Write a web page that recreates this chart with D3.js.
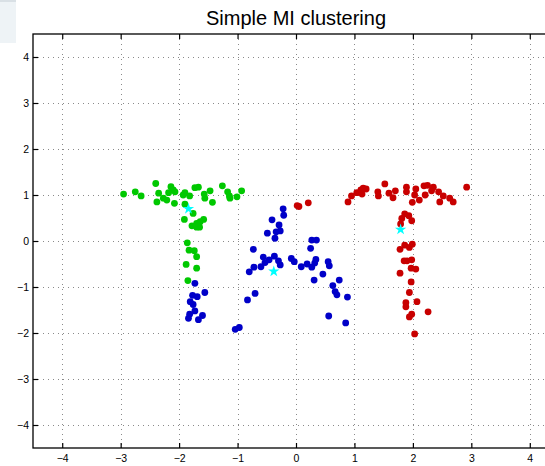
<!DOCTYPE html>
<html>
<head>
<meta charset="utf-8">
<script src="https://cdn.jsdelivr.net/npm/d3@7"></script>
<style>
  html, body { margin: 0; padding: 0; background: #fff; }
  svg { display: block; font-family: "Liberation Sans", Arial, Helvetica, sans-serif; }
</style>
</head>
<body>
<div id="chart"></div>
<script>
// cluster members, [x, y]
const greenPoints = [
  [-2.95, 1.02], [-2.75, 1.07], [-2.65, 0.98], [-2.40, 1.25], [-2.35, 1.04],
  [-2.38, 0.85], [-2.27, 0.93], [-2.21, 0.89], [-2.18, 1.05], [-2.14, 1.18],
  [-2.10, 1.11], [-2.07, 1.07], [-2.08, 0.82], [-1.90, 1.05], [-1.93, 1.00],
  [-1.82, 0.98], [-1.90, 0.80], [-1.73, 1.16], [-1.67, 1.17], [-1.57, 1.02],
  [-1.56, 0.93], [-1.47, 1.09], [-1.43, 0.84], [-1.26, 1.20], [-1.17, 1.07],
  [-1.14, 0.98], [-1.13, 0.93], [-1.01, 0.96], [-0.93, 1.09],
  [-1.76, 0.60], [-1.91, 0.47], [-1.58, 0.47], [-1.64, 0.42], [-1.70, 0.38],
  [-1.78, 0.33], [-1.70, 0.30], [-1.65, 0.30], [-1.86, -0.04], [-1.83, -0.20],
  [-1.74, -0.21], [-1.70, -0.34], [-1.88, -0.51], [-1.70, -0.59], [-1.85, -0.86]
];
const bluePoints = [
  [-1.73, -0.92], [-1.56, -1.12], [-1.77, -1.18], [-1.69, -1.21], [-1.81, -1.32],
  [-1.76, -1.38], [-1.73, -1.52], [-1.82, -1.59], [-1.60, -1.62], [-1.84, -1.68],
  [-1.67, -1.71], [-1.04, -1.92], [-0.97, -1.88], [-0.70, -1.14], [-0.83, -1.28],
  [-0.80, -0.67], [-0.22, 0.70], [-0.21, 0.56], [-0.41, 0.46], [-0.29, 0.35],
  [-0.27, 0.22], [-0.34, 0.20], [-0.49, 0.17], [-0.36, 0.06], [0.27, 0.02],
  [0.35, 0.02], [0.25, -0.16], [-0.73, -0.18], [-0.56, -0.35], [-0.37, -0.33],
  [-0.46, -0.41], [-0.30, -0.43], [-0.27, -0.52], [-0.53, -0.47], [-0.60, -0.56],
  [-0.72, -0.57], [-0.08, -0.38], [-0.03, -0.45], [0.09, -0.56], [0.19, -0.50],
  [0.27, -0.57], [0.34, -0.40], [0.32, -0.48], [0.55, -0.45], [0.57, -0.54],
  [0.46, -0.72], [0.31, -0.85], [0.74, -0.85], [0.63, -0.97], [0.67, -1.10],
  [0.70, -1.17], [0.88, -1.22], [0.56, -1.63], [0.85, -1.78]
];
const redPoints = [
  [0.02, 0.77], [0.05, 0.75], [0.21, 0.83], [0.89, 0.85], [0.95, 0.98],
  [1.04, 1.05], [1.11, 1.11], [1.13, 1.02], [1.15, 1.15], [1.20, 1.13],
  [1.40, 1.07], [1.41, 0.98], [1.52, 1.24], [1.59, 1.04], [1.66, 0.94],
  [1.70, 1.09], [1.89, 1.17], [1.89, 1.07], [2.05, 1.13], [2.03, 1.00],
  [1.99, 0.84], [2.11, 0.89], [2.19, 1.20], [2.25, 1.21], [2.21, 1.00],
  [2.32, 1.09], [2.35, 1.17], [2.44, 1.07], [2.52, 0.98], [2.46, 0.85],
  [2.63, 0.93], [2.69, 0.85], [2.92, 1.17],
  [1.86, 0.59], [1.93, 0.55], [1.81, 0.49], [1.98, 0.44], [1.79, 0.37],
  [1.86, -0.09], [1.99, -0.07], [1.78, -0.18], [1.94, -0.14], [1.85, -0.43],
  [1.90, -0.43], [1.98, -0.41], [1.97, -0.59], [2.05, -0.61], [1.78, -0.70],
  [1.97, -0.89], [1.94, -1.12], [1.88, -1.34], [1.88, -1.43], [2.07, -1.32],
  [2.26, -1.54], [1.98, -1.59], [1.94, -1.65], [2.03, -2.02]
];
// cluster centres (cyan stars)
const centres = [[-1.84, 0.70], [-0.38, -0.66], [1.79, 0.25]];

const clusters = [
  { name: 'green', color: '#00c800', points: greenPoints },
  { name: 'blue', color: '#0000c8', points: bluePoints },
  { name: 'red', color: '#c80000', points: redPoints }
];
const tickValues = [-4, -3, -2, -1, 0, 1, 2, 3, 4];
const titleText = 'Simple MI clustering';

const width = 545, height = 466;
const box = { left: 33, right: 559, top: 34, bottom: 448 };

const svg = d3.select('#chart').append('svg')
  .attr('width', width)
  .attr('height', height);

// little window decoration in the corner
svg.append('rect').attr('x', 0).attr('y', 0).attr('width', 16).attr('height', 43).attr('fill', '#eef3f6');
svg.append('rect').attr('x', 0).attr('y', 0).attr('width', 16).attr('height', 2).attr('fill', '#d9e0e5');

const x = d3.scaleLinear().domain([-4.5, 4.5]).range([box.left, box.right]);
const y = d3.scaleLinear().domain([-4.5, 4.5]).range([box.bottom, box.top]);

// Grid
const grid = svg.append('g').attr('class', 'grid')
  .attr('stroke', '#8a8a8a')
  .attr('stroke-width', 1)
  .attr('stroke-dasharray', '1,4');

grid.selectAll('.vgrid').data(tickValues).enter().append('line')
  .attr('x1', d => Math.round(x(d)) + 0.5).attr('x2', d => Math.round(x(d)) + 0.5)
  .attr('y1', box.top).attr('y2', box.bottom);

grid.selectAll('.hgrid').data(tickValues).enter().append('line')
  .attr('y1', d => Math.round(y(d)) + 0.5).attr('y2', d => Math.round(y(d)) + 0.5)
  .attr('x1', box.left).attr('x2', box.right);

// Axes, ticks pointing inward like MATLAB
const styleAxis = g => {
  g.select('.domain').remove();
  g.selectAll('.tick line').attr('stroke', '#000').attr('stroke-width', 1.2);
  g.selectAll('.tick text').attr('fill', '#000').style('font-size', '10.5px');
};

svg.append('g')
  .attr('transform', `translate(0,${box.bottom})`)
  .call(d3.axisBottom(x).tickValues(tickValues).tickSize(-5).tickPadding(7))
  .call(styleAxis);

svg.append('g')
  .attr('transform', `translate(0,${box.top})`)
  .call(d3.axisTop(x).tickValues(tickValues).tickSize(-5).tickFormat(''))
  .call(styleAxis);

svg.append('g')
  .attr('transform', `translate(${box.left},0)`)
  .call(d3.axisLeft(y).tickValues(tickValues).tickSize(-5).tickPadding(4))
  .call(styleAxis);

svg.append('g')
  .attr('transform', `translate(${box.right},0)`)
  .call(d3.axisRight(y).tickValues(tickValues).tickSize(-5).tickFormat(''))
  .call(styleAxis);

// Frame
svg.append('rect')
  .attr('x', box.left).attr('y', box.top)
  .attr('width', box.right - box.left).attr('height', box.bottom - box.top)
  .attr('fill', 'none').attr('stroke', '#000').attr('stroke-width', 1.3);

// Points
clusters.forEach(c => {
  svg.append('g').attr('class', `cluster-${c.name}`)
    .selectAll('circle')
    .data(c.points)
    .enter()
    .append('circle')
    .attr('cx', d => x(d[0]))
    .attr('cy', d => y(d[1]))
    .attr('r', 3.4)
    .attr('fill', c.color);
});

// Centres
svg.append('g').attr('class', 'centres')
  .selectAll('path')
  .data(centres)
  .enter()
  .append('path')
  .attr('d', d3.symbol().type(d3.symbolStar).size(40))
  .attr('transform', d => `translate(${x(d[0])},${y(d[1])})`)
  .attr('fill', '#00ffff');

// Title
svg.append('text')
  .attr('x', (box.left + box.right) / 2)
  .attr('y', 25)
  .attr('text-anchor', 'middle')
  .style('font-size', '20px')
  .attr('fill', '#000')
  .text(titleText);
</script>
</body>
</html>
